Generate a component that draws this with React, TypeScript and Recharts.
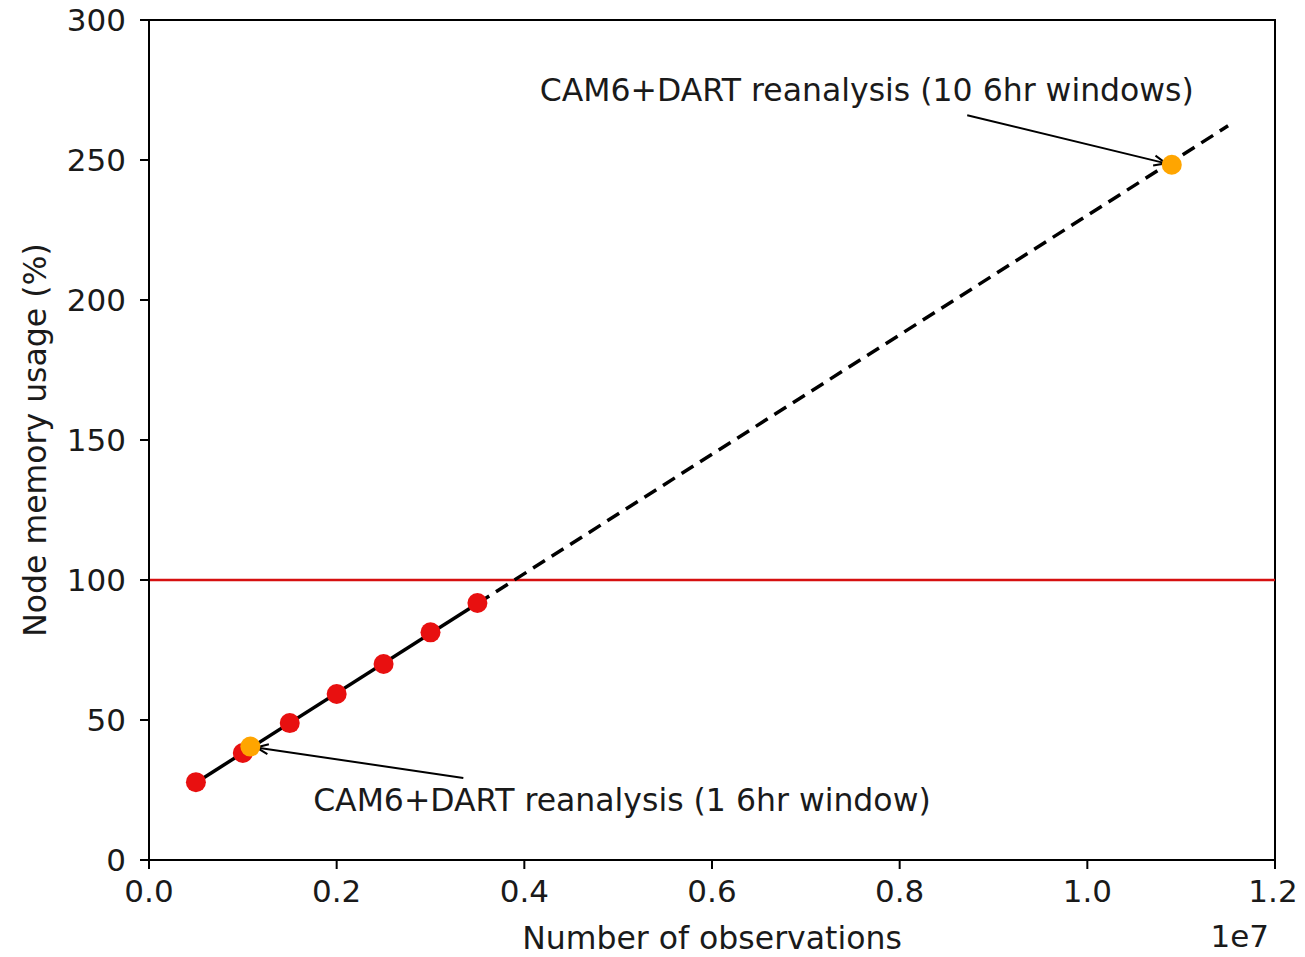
import React from 'react';
import {
  ComposedChart,
  Line,
  Scatter,
  XAxis,
  YAxis,
  ReferenceLine,
  ReferenceArea,
  ReferenceDot,
  Label,
} from 'recharts';

// measured runs: number of observations vs. node memory usage (%)
const obsCounts = [0.5e6, 1.0e6, 1.5e6, 2.0e6, 2.5e6, 3.0e6, 3.5e6];
const memoryUsage = [27.8, 38.2, 48.9, 59.3, 70.0, 81.3, 91.8];

// linear fit: solid over the measured range, dashed extrapolation
const fitX = [0.5e6, 3.5e6, 11.5e6];
const fitY = [27.6, 91.6, 262.2];

// CAM6+DART reanalysis cases
const reanalysisX = [1.08e6, 10.9e6];
const reanalysisY = [40.5, 248.3];
const reanalysisLabels = [
  'CAM6+DART reanalysis (1 6hr window)',
  'CAM6+DART reanalysis (10 6hr windows)',
];
// text centres and arrow tails in data units
const labelAt = [
  { x: 5.04e6, y: 21.4 },
  { x: 7.65e6, y: 275.0 },
];
const arrowFrom = [
  { x: 3.35e6, y: 29.3 },
  { x: 8.72e6, y: 266.0 },
];

const xTicks = [0, 0.2e7, 0.4e7, 0.6e7, 0.8e7, 1.0e7, 1.2e7];
const yTicks = [0, 50, 100, 150, 200, 250, 300];
const memoryLimit = 100;

const FONT = '"DejaVu Sans", sans-serif';
const TEXT = '#1a1a1a';

const measured = obsCounts.map((x, i) => ({ x, y: memoryUsage[i] }));
const fitSolid = [
  { x: fitX[0], y: fitY[0] },
  { x: fitX[1], y: fitY[1] },
];
const fitDashed = [
  { x: fitX[1], y: fitY[1] },
  { x: fitX[2], y: fitY[2] },
];
const reanalysis = reanalysisX.map((x, i) => ({ x, y: reanalysisY[i] }));

const dot = (color: string) => (props: any) => (
  <circle cx={props.cx} cy={props.cy} r={10} fill={color} />
);

// annotation arrow with an open "->" head, pulled back a little from the point
const ArrowShape = (props: any) => {
  const { x1, y1, x2, y2 } = props;
  const dx = x2 - x1;
  const dy = y2 - y1;
  const len = Math.sqrt(dx * dx + dy * dy);
  const ux = dx / len;
  const uy = dy / len;
  const ex = x2 - ux * 6;
  const ey = y2 - uy * 6;
  const head = 13;
  const spread = 0.4;
  const a = Math.atan2(uy, ux);
  const h1x = ex - head * Math.cos(a - spread);
  const h1y = ey - head * Math.sin(a - spread);
  const h2x = ex - head * Math.cos(a + spread);
  const h2y = ey - head * Math.sin(a + spread);
  return (
    <g stroke="#000" strokeWidth={2} fill="none">
      <line x1={x1} y1={y1} x2={ex} y2={ey} />
      <polyline points={`${h1x},${h1y} ${ex},${ey} ${h2x},${h2y}`} />
    </g>
  );
};

const centeredText = (text: string) => (props: any) => {
  const vb = props.viewBox;
  return (
    <text
      x={vb.x + vb.width / 2}
      y={vb.y + vb.height / 2}
      textAnchor="middle"
      dominantBaseline="central"
      fontFamily={FONT}
      fontSize={31.5}
      fill={TEXT}
    >
      {text}
    </text>
  );
};

const XTick = (props: any) => (
  <text
    x={props.x}
    y={props.y + 22}
    textAnchor="middle"
    dominantBaseline="central"
    fontFamily={FONT}
    fontSize={31}
    fill={TEXT}
  >
    {(props.payload.value / 1e7).toFixed(1)}
  </text>
);

const YTick = (props: any) => (
  <text
    x={props.x - 14}
    y={props.y}
    textAnchor="end"
    dominantBaseline="central"
    fontFamily={FONT}
    fontSize={31}
    fill={TEXT}
  >
    {props.payload.value}
  </text>
);

export default function App() {
  return (
    <div style={{ margin: -8 }}>
      <ComposedChart
        width={1305}
        height={957}
        margin={{ top: 20, right: 30, bottom: 2, left: 49 }}
      >
        <XAxis
          type="number"
          dataKey="x"
          domain={[0, 1.2e7]}
          ticks={xTicks}
          tick={XTick}
          tickSize={9}
          tickMargin={0}
          height={95}
          stroke="#000"
          strokeWidth={2}
          allowDataOverflow
        >
          <Label
            content={(p: any) => (
              <text
                x={p.viewBox.x + p.viewBox.width / 2}
                y={p.viewBox.y + 78}
                textAnchor="middle"
                dominantBaseline="central"
                fontFamily={FONT}
                fontSize={31.5}
                fill={TEXT}
              >
                Number of observations
              </text>
            )}
          />
          <Label
            content={(p: any) => (
              <text
                x={p.viewBox.x + p.viewBox.width - 6}
                y={p.viewBox.y + 76}
                textAnchor="end"
                dominantBaseline="central"
                fontFamily={FONT}
                fontSize={31}
                fill={TEXT}
              >
                1e7
              </text>
            )}
          />
        </XAxis>
        <YAxis
          type="number"
          domain={[0, 300]}
          ticks={yTicks}
          tick={YTick}
          tickSize={9}
          tickMargin={0}
          width={100}
          stroke="#000"
          strokeWidth={2}
          allowDataOverflow
        >
          <Label
            content={(p: any) => {
              const cx = 35;
              const cy = p.viewBox.y + p.viewBox.height / 2;
              return (
                <text
                  x={cx}
                  y={cy}
                  transform={`rotate(-90, ${cx}, ${cy})`}
                  textAnchor="middle"
                  dominantBaseline="central"
                  fontFamily={FONT}
                  fontSize={31.5}
                  fill={TEXT}
                >
                  Node memory usage (%)
                </text>
              );
            }}
          />
        </YAxis>

        <ReferenceArea
          x1={0}
          x2={1.2e7}
          y1={0}
          y2={300}
          fill="none"
          stroke="#000"
          strokeWidth={2}
        />
        <ReferenceLine y={memoryLimit} stroke="#d61010" strokeWidth={2.5} />

        <Scatter
          data={measured}
          dataKey="y"
          fill="#e81010"
          shape={dot('#e81010')}
          isAnimationActive={false}
        />
        <Line
          data={fitSolid}
          dataKey="y"
          stroke="#000"
          strokeWidth={3.5}
          dot={false}
          activeDot={false}
          isAnimationActive={false}
        />
        <Line
          data={fitDashed}
          dataKey="y"
          stroke="#000"
          strokeWidth={3.5}
          strokeDasharray="14 8"
          dot={false}
          activeDot={false}
          isAnimationActive={false}
        />
        <Scatter
          data={reanalysis}
          dataKey="y"
          fill="#ffa500"
          shape={dot('#ffa500')}
          isAnimationActive={false}
        />

        {reanalysis.map((pt, i) => (
          <ReferenceLine
            key={`arrow-${i}`}
            segment={[arrowFrom[i], pt]}
            shape={ArrowShape}
            ifOverflow="visible"
          />
        ))}
        {labelAt.map((pos, i) => (
          <ReferenceDot
            key={`label-${i}`}
            x={pos.x}
            y={pos.y}
            r={0}
            fill="none"
            stroke="none"
            label={centeredText(reanalysisLabels[i])}
          />
        ))}
      </ComposedChart>
    </div>
  );
}
